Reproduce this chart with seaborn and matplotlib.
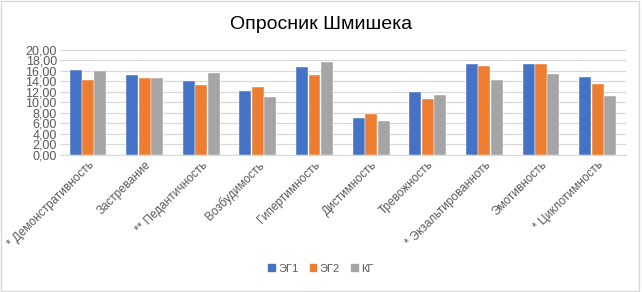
import numpy as np
import pandas as pd
import matplotlib.pyplot as plt
import matplotlib.ticker as mticker
from matplotlib.patches import Rectangle
import seaborn as sns

# данные с диаграммы
scales = ["* Демонстративность", "Застревание", "** Педантичность", "Возбудимость",
          "Гипертимность", "Дистимность", "Тревожность", "* Экзальтированноть",
          "Эмотивность", "* Циклотимность"]
eg1 = [16.2, 15.2, 14.1, 12.1, 16.7, 6.9, 11.9, 17.35, 17.2, 14.7]
eg2 = [14.3, 14.6, 13.25, 12.9, 15.1, 7.7, 10.7, 16.9, 17.2, 13.5]
kg = [15.9, 14.6, 15.5, 11.0, 17.6, 6.4, 11.4, 14.2, 15.3, 11.2]
groups = ["ЭГ1", "ЭГ2", "КГ"]
colors = ["#4472C4", "#ED7D31", "#A5A5A5"]

df = pd.DataFrame({
    "scale": scales * 3,
    "value": eg1 + eg2 + kg,
    "group": [g for g in groups for _ in scales],
})

sns.set_style("white")
plt.rcParams['font.family'] = ['Liberation Sans', 'DejaVu Sans']

fig = plt.figure(figsize=(6.42, 2.92), dpi=100)
ax = fig.add_axes([0.093, 0.47, 0.882, 0.36])

sns.barplot(data=df, x="scale", y="value", hue="group", palette=colors, saturation=1,
            width=0.66, gap=0.04, ax=ax, legend=False, zorder=3,
            edgecolor="#FFFFFF", linewidth=0.3)

ax.set_ylim(0, 20)
ax.yaxis.set_major_locator(mticker.MultipleLocator(2))
ax.yaxis.set_major_formatter(mticker.FuncFormatter(lambda v, p: f"{v:.2f}".replace(".", ",")))
ax.grid(axis="y", color="#D9D9D9", linewidth=0.9, zorder=0)
for s in ["top", "right", "left"]:
    ax.spines[s].set_visible(False)
ax.spines["bottom"].set_color("#D9D9D9")
ax.set_xlabel("")
ax.set_ylabel("")
ax.tick_params(axis="y", length=0, labelsize=9, labelcolor="#595959", pad=2)
ax.tick_params(axis="x", length=0, labelsize=8.5, labelcolor="#595959", pad=3)
plt.setp(ax.get_xticklabels(), rotation=45, ha="right", rotation_mode="anchor")

fig.text(0.5, 0.915, "Опросник Шмишека", ha="center", va="center", fontsize=14, color="#000000")

handles = [Rectangle((0, 0), 1, 1, color=c) for c in colors]
fig.legend(handles, groups, loc="center", bbox_to_anchor=(0.5, 0.08), ncol=3, frameon=False,
           fontsize=8, labelcolor="#595959", handlelength=0.6, handleheight=0.6,
           handletextpad=0.3, columnspacing=1.0)

# рамка области диаграммы
fig.patches.append(Rectangle((0.002, 0.003), 0.994, 0.994, transform=fig.transFigure,
                             fill=False, edgecolor="#D9D9D9", linewidth=1))

fig.savefig("out.png", dpi=100)
